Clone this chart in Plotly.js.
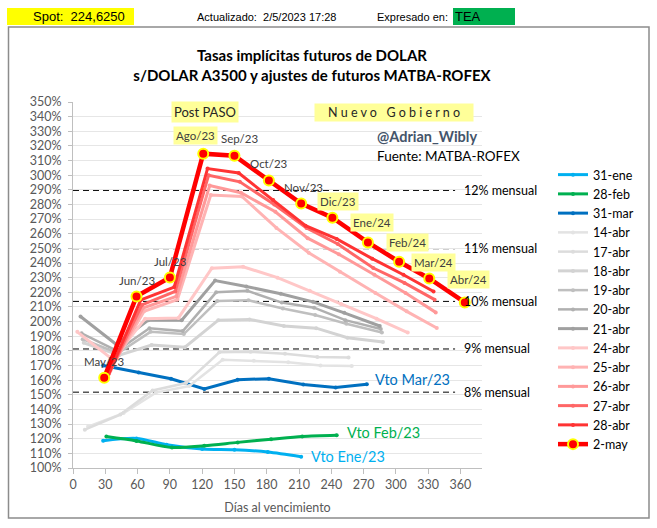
<!DOCTYPE html>
<html><head><meta charset="utf-8">
<script src="https://cdn.plot.ly/plotly-3.0.1.min.js"></script>
<style>html,body{margin:0;padding:0;background:#fff}#chart{width:657px;height:528px}</style>
</head><body><div id="chart"></div>
<script>
// ---- data (days to expiry, implied annual rate %) ----
const d_31ene=[28,59,87,120,150,181,212];
const v_31ene=[118.6,120.2,115.9,113,112.5,110.9,107.7];
const d_28feb=[31,59,92,122,153,184,213,245];
const v_28feb=[121.5,118.5,114,115.2,117.5,119.6,121.5,122.3];
const d_31mar=[28,61,91,122,153,182,214,244,273];
const v_31mar=[170,165.3,161,154,160.3,161,157,155,157.2];
const d_14abr=[14,47,77,108,139,168,200,230,259];
const v_14abr=[128.3,137.5,151.5,156,174,173.3,172.2,170,169.7];
const d_17abr=[11,44,74,105,136,165,197,227,256];
const v_17abr=[126.2,136.5,153,158,179,179.4,178.1,175.8,175.5];
const d_18abr=[10,43,73,104,135,164,196,226,255,288];
const v_18abr=[185.5,177,184,182.5,201,201.5,197,195.5,189,186];
const d_19abr=[9,42,72,103,134,163,195,225,254,287];
const v_19abr=[188,178.5,193,191.5,214,214.5,209,204.5,198.5,192.5];
const d_20abr=[8,41,71,102,133,162,194,224,253,286];
const v_20abr=[192,180,195.5,193.5,220,221,213,209.5,201,195];
const d_21abr=[7,40,70,101,132,161,193,223,252,285];
const v_21abr=[203.5,184.5,201,201,228,224,219,213.5,206,197];
const d_24abr=[4,37,67,98,129,158,190,220,249,282,311];
const v_24abr=[193,174,202,202.5,236.5,237.5,230,221,212,202,192.5];
const d_25abr=[36,66,97,128,157,189,219,248,281,310,338];
const v_25abr=[169,207,215,286.5,285.5,264,247,234,219.5,207,195.6];
const d_26abr=[35,65,96,127,156,188,218,247,280,309,337];
const v_26abr=[167,209.3,217.2,293,288,275,257,246,232,219.5,206.3];
const d_27abr=[34,64,95,126,155,187,217,246,279,308,336];
const v_27abr=[165.5,211.4,220.6,300,295.5,280,264,253,236.6,226.4,215];
const d_28abr=[33,63,94,125,154,186,216,245,278,307,335];
const v_28abr=[164,214.8,223.6,304.5,301.5,283,265.5,256.5,243,232,220.6];
const d_2may=[29,59,90,121,150,182,212,241,274,303,331,364];
const v_2may=[161.7,217.2,230.2,314.7,313.3,296.4,280.7,271,254.1,240.9,229.5,213.1];
const monthLabels=['May/23','Jun/23','Jul/23','Ago/23','Sep/23','Oct/23','Nov/23','Dic/23','Ene/24','Feb/24','Mar/24','Abr/24'];
const refNames=['12% mensual','11% mensual','10% mensual','9% mensual','8% mensual'];
const refValues=[289.6,249.8,213.8,181.3,151.8];
const refEndDay=355;
const xTicks=[0,30,60,90,120,150,180,210,240,270,300,330,360];

// ---- styles ----
const F='Lato, "Liberation Sans", sans-serif';
const series=[
 ['31-ene',d_31ene,v_31ene],['28-feb',d_28feb,v_28feb],['31-mar',d_31mar,v_31mar],
 ['14-abr',d_14abr,v_14abr],['17-abr',d_17abr,v_17abr],['18-abr',d_18abr,v_18abr],
 ['19-abr',d_19abr,v_19abr],['20-abr',d_20abr,v_20abr],['21-abr',d_21abr,v_21abr],
 ['24-abr',d_24abr,v_24abr],['25-abr',d_25abr,v_25abr],['26-abr',d_26abr,v_26abr],
 ['27-abr',d_27abr,v_27abr],['28-abr',d_28abr,v_28abr],['2-may',d_2may,v_2may]
];
const sty={
 '31-ene':{c:'#00B0F0',w:3,s:'spline'},'28-feb':{c:'#00B050',w:3,s:'spline'},'31-mar':{c:'#0070C0',w:3,s:'linear'},
 '14-abr':{c:'#E3E3E3',w:2.5},'17-abr':{c:'#DCDCDC',w:2.5},'18-abr':{c:'#D3D3D3',w:3},
 '19-abr':{c:'#BFBFBF',w:2.5},'20-abr':{c:'#B0B0B0',w:2.5},'21-abr':{c:'#A0A0A0',w:3},
 '24-abr':{c:'#FFC7C7',w:3},'25-abr':{c:'#FFB3B3',w:3},'26-abr':{c:'#FF9999',w:3},
 '27-abr':{c:'#FF6666',w:3},'28-abr':{c:'#FF3333',w:3}
};
const traces=series.map(([n,d,v])=>{
 if(n==='2-may'){
  return {type:'scatter',mode:'lines+markers',name:n,x:d,y:v,
   line:{color:'#FF0000',width:4.5},
   marker:{size:10,color:'#FF0000',line:{color:'#FFFF00',width:2}},hoverinfo:'skip'};
 }
 const s=sty[n];
 return {type:'scatter',mode:'lines+markers',name:n,x:d,y:v,
  line:{color:s.c,width:s.w,shape:s.s||'linear',smoothing:0.8},
  marker:{size:4,color:s.c},hoverinfo:'skip'};
});

const L=73,T=102,W=409,H=366;
const px=p=>(p-L)/W, py=p=>(T+H-p)/H;

const shapes=[
 {type:'rect',xref:'paper',yref:'paper',x0:px(8.5),x1:px(649),y0:py(518),y1:py(27),line:{color:'#8C8C8C',width:1.5},fillcolor:'rgba(0,0,0,0)'},
 {type:'rect',xref:'paper',yref:'paper',x0:px(7),x1:px(134),y0:py(25),y1:py(8),line:{width:0},fillcolor:'#FFFF00'},
 {type:'rect',xref:'paper',yref:'paper',x0:px(453),x1:px(515),y0:py(25),y1:py(8),line:{width:0},fillcolor:'#00B050'}
];
refValues.forEach(v=>shapes.push({type:'line',xref:'x',yref:'y',x0:0,x1:refEndDay,y0:v,y1:v,layer:'below',
 line:{color:'#000',width:1,dash:'6px,4px'}}));

const ann=[];
refValues.forEach((v,i)=>ann.push({xref:'x',yref:'y',x:refEndDay,y:v,text:refNames[i],showarrow:false,
 xanchor:'left',yanchor:'middle',xshift:7,font:{family:F,size:12.5,color:'#000'}}));
const lblOff=[[0,16],[0,16],[1,16],[-8,18],[5,17],[0,17],[2,16],[6,16],[4,20],[8,19],[4,16],[4,23]];
const boxed=[false,false,false,true,false,false,false,true,true,true,true,true];
monthLabels.forEach((t,i)=>ann.push({xref:'x',yref:'y',x:d_2may[i],y:v_2may[i],text:t,showarrow:false,
 xanchor:'center',yanchor:'middle',xshift:lblOff[i][0],yshift:lblOff[i][1],
 bgcolor:boxed[i]?'#FFFF99':'rgba(0,0,0,0)',borderpad:2,font:{family:F,size:11.5,color:'#404040'}}));
const vto=[['Vto Mar/23',d_31mar,v_31mar,'#0070C0',6,5],['Vto Feb/23',d_28feb,v_28feb,'#00B050',8,3],['Vto Ene/23',d_31ene,v_31ene,'#00B0F0',8,0]];
vto.forEach(([t,d,v,c,xs,ys])=>ann.push({xref:'x',yref:'y',x:d[d.length-1],y:v[v.length-1],text:t,showarrow:false,
 xanchor:'left',yanchor:'middle',xshift:xs,yshift:ys,font:{family:F,size:14.5,color:c}}));
const H2='Liberation Sans, Arial, sans-serif';
ann.push(
 {xref:'paper',yref:'paper',x:px(78.5),y:py(16.5),text:'Spot:&nbsp;&nbsp;224,6250',showarrow:false,xanchor:'center',yanchor:'middle',font:{family:H2,size:13,color:'#000'}},
 {xref:'paper',yref:'paper',x:px(266.5),y:py(17),text:'Actualizado:&nbsp;&nbsp;2/5/2023 17:28',showarrow:false,xanchor:'center',yanchor:'middle',font:{family:H2,size:11,color:'#000'}},
 {xref:'paper',yref:'paper',x:px(450),y:py(17),text:'Expresado en:',showarrow:false,xanchor:'right',yanchor:'middle',font:{family:H2,size:11,color:'#000'}},
 {xref:'paper',yref:'paper',x:px(453),y:py(16.5),text:'TEA',showarrow:false,xanchor:'left',yanchor:'middle',font:{family:H2,size:13,color:'#000'}},
 {xref:'paper',yref:'paper',x:px(204.5),y:py(112),text:'Post PASO',showarrow:false,xanchor:'center',yanchor:'middle',
  bgcolor:'#FFFF99',borderpad:2,font:{family:F,size:13,color:'#262626'}},
 {xref:'paper',yref:'paper',x:px(394),y:py(112),text:'N&nbsp;u&nbsp;e&nbsp;v&nbsp;o&nbsp;&nbsp;&nbsp;G&nbsp;o&nbsp;b&nbsp;i&nbsp;e&nbsp;r&nbsp;n&nbsp;o',showarrow:false,
  xanchor:'center',yanchor:'middle',width:156,bgcolor:'#FFFF99',borderpad:1,font:{family:F,size:12.5,color:'#262626'}},
 {xref:'paper',yref:'paper',x:px(375),y:py(136),text:'@Adrian_Wibly',showarrow:false,xanchor:'left',yanchor:'middle',
  font:{family:F,size:14.5,color:'#44546A',weight:'bold'}},
 {xref:'paper',yref:'paper',x:px(375),y:py(155.5),text:'Fuente: MATBA-ROFEX',showarrow:false,xanchor:'left',yanchor:'middle',
  font:{family:F,size:13.5,color:'#000'}}
);

const layout={
 width:657,height:528,margin:{l:L,r:657-L-W,t:T,b:528-T-H},
 paper_bgcolor:'#fff',plot_bgcolor:'#fff',showlegend:true,
 title:{text:'Tasas implícitas futuros de DOLAR<br>s/DOLAR A3500 y ajustes de futuros MATBA-ROFEX',
  font:{family:F,size:15,color:'#000',weight:'bold'},x:312/657,xref:'container',xanchor:'center',y:1-61/528,yref:'container',yanchor:'top'},
 xaxis:{range:[0,380],tickvals:xTicks,showgrid:false,zeroline:false,showline:true,linecolor:'#BFBFBF',linewidth:1,
  ticks:'outside',ticklen:5,tickcolor:'#BFBFBF',tickfont:{family:F,size:12.5,color:'#595959'},
  title:{text:'Días al vencimiento',font:{family:F,size:12.5,color:'#595959'},standoff:12}},
 yaxis:{range:[100,350],dtick:10,ticksuffix:'%',gridcolor:'#E6E6E6',zeroline:false,showline:true,linecolor:'#BFBFBF',
  ticks:'outside',ticklen:4,tickcolor:'#BFBFBF',ticklabelstandoff:4,tickfont:{family:F,size:12.5,color:'#595959'}},
 legend:{x:px(553),y:py(160),xanchor:'left',yanchor:'top',itemwidth:30,bgcolor:'rgba(0,0,0,0)',
  font:{family:F,size:12.5,color:'#000'},tracegroupgap:0},
 shapes:shapes,annotations:ann
};
Plotly.newPlot('chart',traces,layout,{displayModeBar:false,staticPlot:true});
</script></body></html>
